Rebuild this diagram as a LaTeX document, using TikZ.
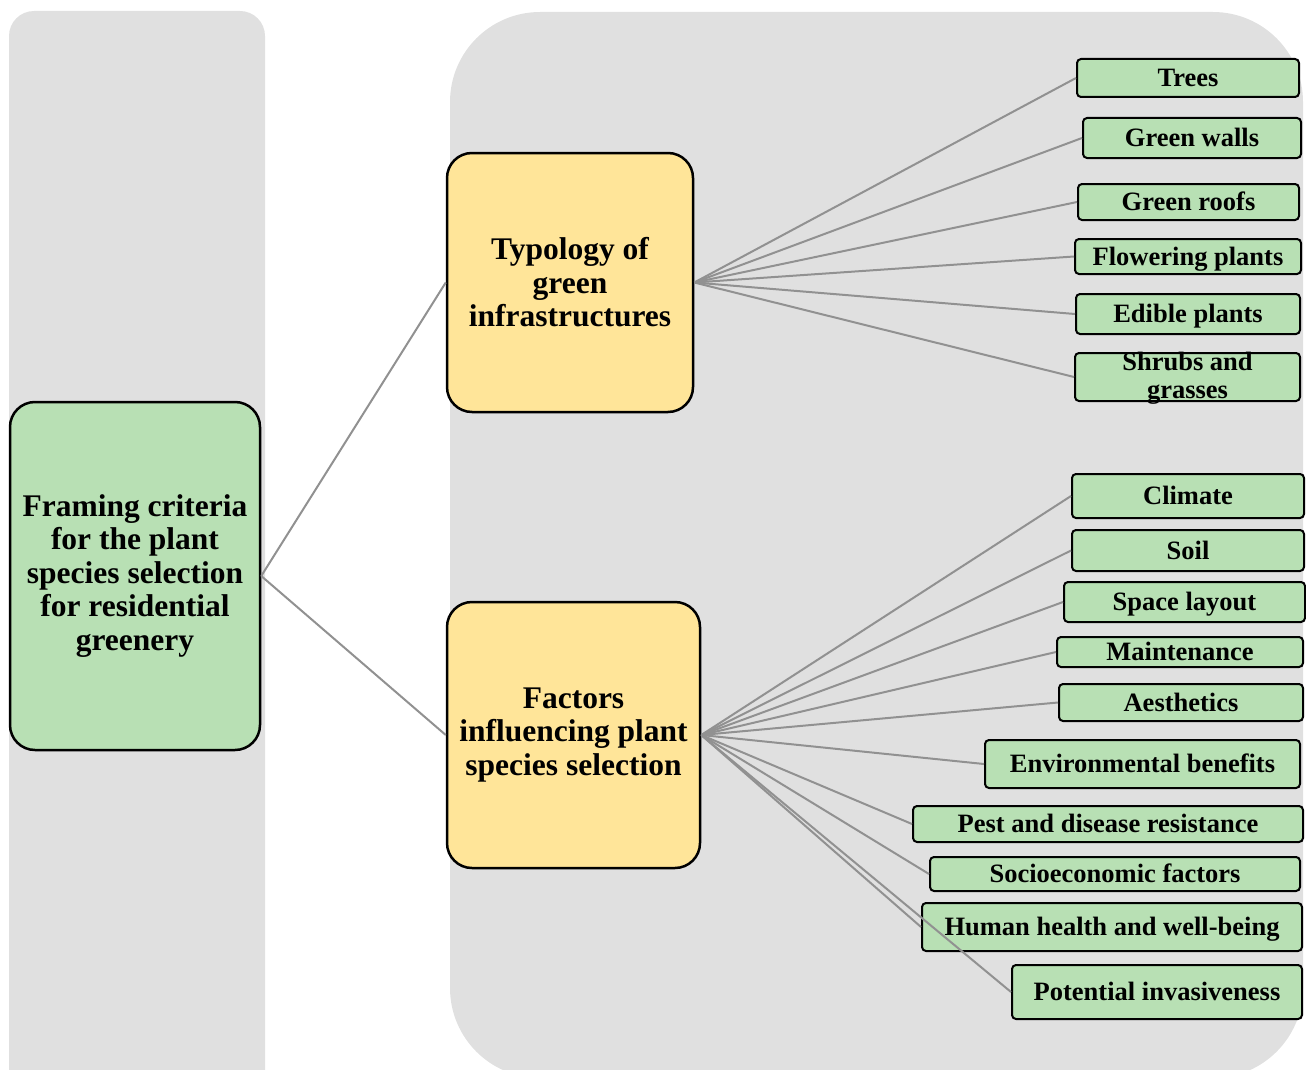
\documentclass[tikz,border=0pt]{standalone}
\usepackage{fontspec}
\setmainfont{Liberation Serif}
\definecolor{panelgray}{RGB}{224,224,224}
\definecolor{leafgreen}{RGB}{184,224,180}
\definecolor{mainyellow}{RGB}{255,229,153}
\definecolor{conngray}{RGB}{145,145,145}
\begin{document}
\begin{tikzpicture}[x=1pt,y=-1pt,
  mainbox/.style={draw=black, line width=2.5pt, rounded corners=25pt, align=center, inner sep=0pt,
    font=\fontsize{31.5}{33.5}\selectfont\bfseries},
  rootbox/.style={mainbox, fill=leafgreen},
  midbox/.style={mainbox, fill=mainyellow},
  leaf/.style={draw=black, line width=2pt, rounded corners=4pt, fill=leafgreen, inner sep=0pt,
    text height=19pt, text depth=2pt,
    font=\fontsize{26.5}{28}\selectfont\bfseries},
  leaftext/.style={inner sep=0pt, align=center, font=\fontsize{26.5}{28}\selectfont\bfseries},
  conn/.style={draw=conngray, line width=2pt}]
\useasboundingbox (0,0) rectangle (1306,1070);
\clip (0,0) rectangle (1306,1070);
% panels
\fill[panelgray, rounded corners=25pt] (9,11) rectangle (265,1110);
\fill[panelgray, rounded corners=90pt] (450,12) rectangle (1303,1078);
% main nodes
\node[rootbox, minimum width=250, minimum height=348] (root) at (135,576)
  {Framing criteria\\for the plant\\species selection\\for residential\\greenery};
\node[midbox, minimum width=246, minimum height=259] (typ) at (570,282.5)
  {Typology of\\green\\infrastructures};
\node[midbox, minimum width=253, minimum height=266] (fac) at (573.5,735)
  {Factors\\influencing plant\\species selection};
% typology leaves
\node[leaf, minimum width=222, minimum height=38] (t1) at (1188,78) {Trees};
\node[leaf, minimum width=218, minimum height=40] (t2) at (1192,138) {Green walls};
\node[leaf, minimum width=221, minimum height=36] (t3) at (1188.5,202) {Green roofs};
\node[leaf, minimum width=226, minimum height=35] (t4) at (1188,256.5) {Flowering plants};
\node[leaf, minimum width=224, minimum height=40] (t5) at (1188,314) {Edible plants};
\node[leaf, minimum width=225, minimum height=48] (t6) at (1187.5,377) {};
\node[leaftext] (t6l) at (1187.5,378) {Shrubs and\\grasses};
% factor leaves
\node[leaf, minimum width=232, minimum height=44] (f1) at (1188,496) {Climate};
\node[leaf, minimum width=232, minimum height=41] (f2) at (1188,550.5) {Soil};
\node[leaf, minimum width=241, minimum height=40] (f3) at (1184.5,602) {Space layout};
\node[leaf, minimum width=246, minimum height=30] (f4) at (1180,652) {Maintenance};
\node[leaf, minimum width=244, minimum height=37] (f5) at (1181,702.5) {Aesthetics};
\node[leaf, minimum width=315, minimum height=48] (f6) at (1142.5,764) {Environmental benefits};
\node[leaf, minimum width=390, minimum height=36] (f7) at (1108,824) {Pest and disease resistance};
\node[leaf, minimum width=370, minimum height=34] (f8) at (1115,874) {Socioeconomic factors};
\node[leaf, minimum width=380, minimum height=48] (f9) at (1112,927) {Human health and well-being};
\node[leaf, minimum width=290, minimum height=54] (f10) at (1157,992) {Potential invasiveness};
% connectors
\draw[conn] (root.east) -- (typ.west);
\draw[conn] (root.east) -- (fac.west);
\foreach \n in {t1,t2,t3,t4,t5,t6} \draw[conn] (typ.east) -- (\n.west);
\foreach \n in {f1,f2,f3,f4,f5,f6,f7,f8,f9,f10} \draw[conn] (fac.east) -- (\n.west);
\end{tikzpicture}
\end{document}
